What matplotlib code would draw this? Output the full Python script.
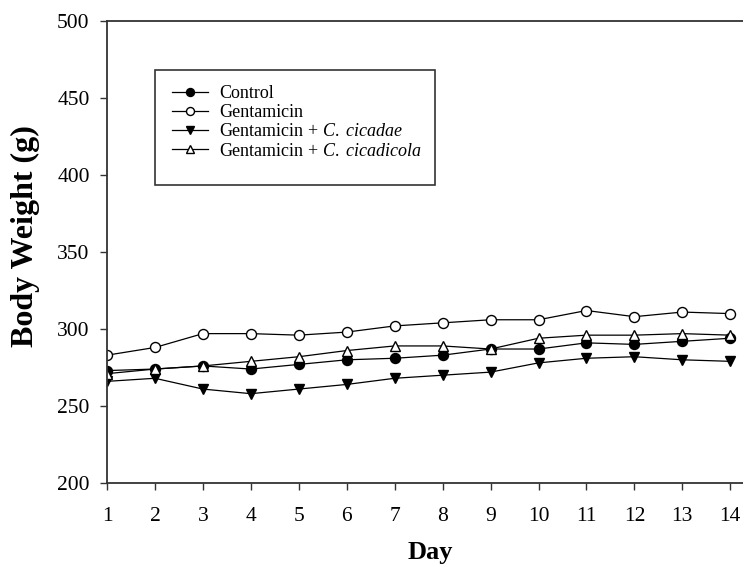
import numpy as np
import matplotlib
matplotlib.use("Agg")
import matplotlib.pyplot as plt
from matplotlib.patches import Rectangle

plt.rcParams['font.family'] = ['Liberation Serif', 'DejaVu Serif']
plt.rcParams['mathtext.fontset'] = 'custom'
plt.rcParams['mathtext.it'] = 'Liberation Serif:italic'
plt.rcParams['mathtext.rm'] = 'Liberation Serif'

# data
days = np.arange(1, 15)
control = [273, 274, 276, 274, 277, 280, 281, 283, 287, 287, 291, 290, 292, 294]
gentamicin = [283, 288, 297, 297, 296, 298, 302, 304, 306, 306, 312, 308, 311, 310]
gent_cicadae = [266, 268, 261, 258, 261, 264, 268, 270, 272, 278, 281, 282, 280, 279]
gent_cicadicola = [271, 274, 276, 279, 282, 286, 289, 289, 287, 294, 296, 296, 297, 296]

labels = ['Control', 'Gentamicin',
          r'Gentamicin + $\it{C.\ cicadae}$',
          r'Gentamicin + $\it{C.\ cicadicola}$']

W, H = 743, 568
fig = plt.figure(figsize=(W/100, H/100), dpi=100)
ax = fig.add_axes([107/W, 1 - 483/H, 1 - 107/W + 0.01, (483 - 21)/H])

ms = 7.2
lw = 0.9
ax.plot(days, control, '-o', color='black', mfc='black', mec='black', ms=ms, lw=lw, label=labels[0])
ax.plot(days, gentamicin, '-o', color='black', mfc='white', mec='black', ms=ms, lw=lw, label=labels[1])
ax.plot(days, gent_cicadae, '-v', color='black', mfc='black', mec='black', ms=ms + 0.5, lw=lw, label=labels[2])
ax.plot(days, gent_cicadicola, '-^', color='black', mfc='white', mec='black', ms=ms + 0.5, lw=lw, label=labels[3])

ax.set_xlim(1, 14.42)
ax.set_ylim(200, 500)
ax.set_xticks(days)
ax.set_yticks(np.arange(200, 501, 50))
ax.tick_params(direction='out', length=5, width=1, labelsize=15.5, colors='#333333',
               labelcolor='black')
ax.tick_params(axis='x', pad=12)
ax.tick_params(axis='y', pad=7.5)
ax.spines['right'].set_visible(False)
for s in ['left', 'bottom', 'top']:
    ax.spines[s].set_linewidth(1.3)
    ax.spines[s].set_color('#333333')

ax.set_xlabel('Day', fontsize=19, fontweight='bold')
ax.set_ylabel('Body Weight (g)', fontsize=23, fontweight='bold')
ax.xaxis.set_label_coords(0.502, -0.125)
ax.yaxis.set_label_coords(-0.104, 0.535)

leg = ax.legend(loc='upper left', bbox_to_anchor=(172/W, 1 - 85/H),
                bbox_transform=fig.transFigure, borderaxespad=0, borderpad=0,
                fontsize=13, markerscale=0.8, handlelength=2.0, handletextpad=0.6,
                frameon=False, labelspacing=0.12)
fig.patches.append(Rectangle((155/W, 1 - 185/H), 280/W, 115/H, transform=fig.transFigure,
                             fill=False, edgecolor='#333333', linewidth=1.2))

fig.savefig('out.png', dpi=100)
